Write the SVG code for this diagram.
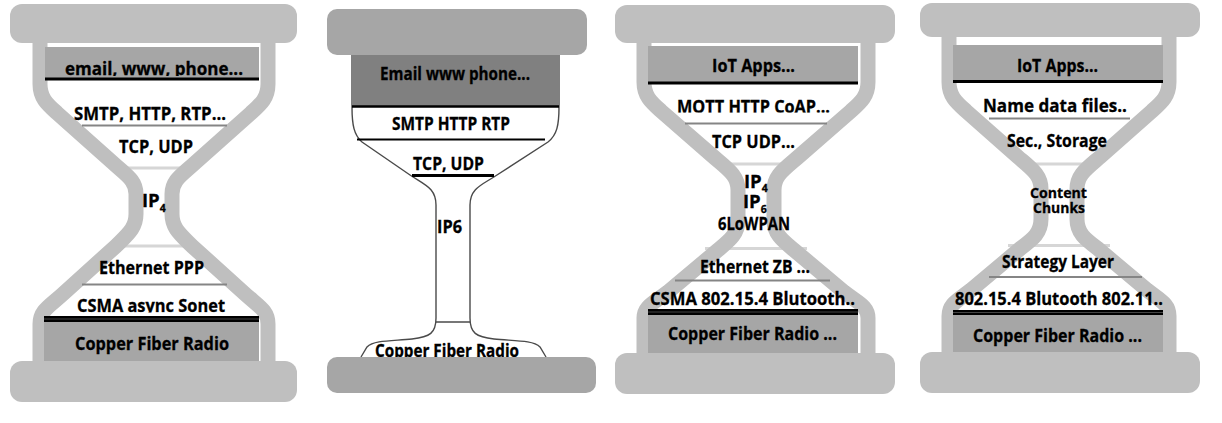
<svg xmlns="http://www.w3.org/2000/svg" width="1222" height="423" viewBox="0 0 1222 423">
<style>
.cap{fill:#bfbfbf}
.cap2{fill:#a6a6a6}
.band{fill:none;stroke:#bfbfbf;stroke-width:15}
.lbl{fill:#a6a6a6}
.lbl2{fill:#808080}
.t{font-family:"Open Sans","Liberation Sans",sans-serif;font-weight:700;font-size:18.5px;fill:#000;stroke:#000;stroke-width:0.3}
.s{font-size:17.5px}
.sm{font-size:14.5px}
.sub{font-size:10.5px}
.sep{stroke:#858585;stroke-width:2.2}
.neck{stroke:#d6d6d6;stroke-width:3}
.blk{stroke:#000;stroke-width:3}
.out{fill:none;stroke:#4a4a4a;stroke-width:1.4}
</style>
<defs>
<clipPath id="c1"><rect x="0" y="0" width="310" height="76"/></clipPath>
<clipPath id="c2"><rect x="0" y="290" width="310" height="22.5"/></clipPath>
<clipPath id="c3"><rect x="610" y="80" width="300" height="32.5"/></clipPath>
</defs>
<rect width="1222" height="423" fill="#fff"/>

<g id="hourglass-internet">
<line class="neck" x1="125" y1="168" x2="183" y2="168"/>
<line class="neck" x1="110" y1="246" x2="198" y2="246"/>
<path class="band" d="M40,40 L40,84 C40,98 47,104 57,113 L112,162 C126,175 136,180 136,194 L136,214 C136,228 128,234 116,246 L64,293 C50,306 40,310 40,324 L40,364 M268,40 L268,84 C268,98 261,104 251,113 L196,162 C182,175 172,180 172,194 L172,214 C172,228 180,234 192,246 L244,293 C258,306 268,310 268,324 L268,364"/>
<rect class="cap" x="10" y="4" width="287" height="39" rx="12"/>
<rect class="lbl" x="45" y="47" width="214" height="31"/>
<text class="t" x="65" y="74.5" textLength="178" lengthAdjust="spacingAndGlyphs" clip-path="url(#c1)">email, www, phone...</text>
<line class="blk" x1="45" y1="79" x2="259" y2="79"/>
<text class="t" x="74" y="119.5" textLength="152" lengthAdjust="spacingAndGlyphs">SMTP, HTTP, RTP...</text>
<line class="sep" x1="82" y1="125.5" x2="227" y2="125.5"/>
<text class="t" x="119" y="153" textLength="74" lengthAdjust="spacingAndGlyphs">TCP, UDP</text>
<text class="t" x="142" y="207">IP<tspan class="sub" dy="4.5">4</tspan></text>
<text class="t" x="99" y="273.5" textLength="105" lengthAdjust="spacingAndGlyphs">Ethernet PPP</text>
<line class="sep" x1="82" y1="284.5" x2="227" y2="284.5"/>
<text class="t" x="77" y="311.5" textLength="148" lengthAdjust="spacingAndGlyphs" clip-path="url(#c2)">CSMA async Sonet</text>
<rect x="44" y="316" width="215" height="6" fill="#000"/>
<line x1="44" y1="319" x2="259" y2="319" stroke="#555" stroke-width="0.8"/>
<rect class="lbl" x="44" y="322" width="215" height="40"/>
<text class="t" x="75" y="350" textLength="154" lengthAdjust="spacingAndGlyphs">Copper Fiber Radio</text>
<rect class="cap" x="10" y="361" width="287" height="41" rx="12"/>
</g>

<g id="wineglass-ipv6">
<path class="out" d="M352,55 L352,107 C352,125 354,135 362,142 L410,175 C425,185 436,188 436,205 L436,318 C436,333 430,337 412,339 C392,341 374,340 367,347 L361,357 M559,55 L559,107 C559,125 557,135 548,142 L497,175 C482,185 470,188 470,205 L470,318 C470,333 476,337 494,339 C514,341 533,340 540,347 L546,357"/>
<line class="out" x1="436" y1="322" x2="470" y2="322"/>
<rect class="cap2" x="327" y="9" width="260" height="46" rx="10"/>
<rect class="lbl2" x="352" y="55" width="207" height="51"/>
<text class="t s" x="380" y="80" textLength="150" lengthAdjust="spacingAndGlyphs">Email www phone...</text>
<line x1="352" y1="106.5" x2="559" y2="106.5" stroke="#000" stroke-width="2.5"/>
<text class="t s" x="392" y="130" textLength="118" lengthAdjust="spacingAndGlyphs">SMTP HTTP RTP</text>
<line x1="357" y1="139.5" x2="545" y2="139.5" stroke="#000" stroke-width="2"/>
<text class="t s" x="413" y="170" textLength="71" lengthAdjust="spacingAndGlyphs">TCP, UDP</text>
<line class="blk" x1="412" y1="175.5" x2="494" y2="175.5"/>
<text class="t s" x="437" y="233" textLength="25" lengthAdjust="spacingAndGlyphs">IP6</text>
<text class="t s" x="375" y="357" textLength="144" lengthAdjust="spacingAndGlyphs">Copper Fiber Radio</text>
<rect class="cap2" x="327" y="357" width="269" height="36" rx="10"/>
</g>

<g id="hourglass-iot">
<line class="neck" x1="715" y1="164" x2="797" y2="164"/>
<line class="neck" x1="705" y1="248.5" x2="807" y2="248.5"/>
<path class="band" d="M644,40 L644,82 C644,96 651,102 661,111 L715,158 C729,170 738,176 738,190 L738,220 C738,234 730,240 718,250 L668,292 C654,303 644,306 644,318 L644,356 M868,40 L868,82 C868,96 861,102 851,111 L797,158 C783,170 774,176 774,190 L774,220 C774,234 782,240 794,250 L844,292 C858,303 868,306 868,318 L868,356"/>
<rect class="cap" x="615" y="5" width="280" height="38" rx="12"/>
<rect class="lbl" x="648" y="46" width="210" height="36"/>
<text class="t" x="712" y="72" textLength="83" lengthAdjust="spacingAndGlyphs">IoT Apps...</text>
<line class="blk" x1="648" y1="83" x2="858" y2="83"/>
<text class="t" x="677" y="113" textLength="153" lengthAdjust="spacingAndGlyphs" clip-path="url(#c3)">MQTT HTTP CoAP...</text>
<line class="sep" x1="685" y1="123.5" x2="827" y2="123.5"/>
<text class="t" x="712" y="148" textLength="83" lengthAdjust="spacingAndGlyphs">TCP UDP...</text>
<text class="t"><tspan x="744" y="188">IP</tspan><tspan class="sub" dy="4">4</tspan><tspan x="743" y="207.5">IP</tspan><tspan class="sub" dy="5">6</tspan><tspan x="718" y="230" textLength="72" lengthAdjust="spacingAndGlyphs">6LoWPAN</tspan></text>
<text class="t" x="700" y="273" textLength="110" lengthAdjust="spacingAndGlyphs">Ethernet ZB ...</text>
<line class="sep" x1="675" y1="280.5" x2="830" y2="280.5"/>
<text class="t" x="650" y="305" textLength="205" lengthAdjust="spacingAndGlyphs">CSMA 802.15.4 Blutooth..</text>
<rect x="648" y="309" width="210" height="6" fill="#000"/>
<line x1="648" y1="312" x2="858" y2="312" stroke="#555" stroke-width="0.8"/>
<rect class="lbl" x="648" y="315" width="210" height="38"/>
<text class="t" x="668" y="340" textLength="169" lengthAdjust="spacingAndGlyphs">Copper Fiber Radio ...</text>
<rect class="cap" x="615" y="353" width="280" height="41" rx="12"/>
</g>

<g id="hourglass-ndn">
<line class="neck" x1="1018" y1="164" x2="1100" y2="164"/>
<line class="neck" x1="1008" y1="245.5" x2="1110" y2="245.5"/>
<path class="band" d="M949,34 L949,82 C949,96 956,102 966,111 L1018,157 C1032,169 1041,175 1041,189 L1041,219 C1041,233 1033,239 1021,248 L971,290 C957,301 949,304 949,316 L949,355 M1169,34 L1169,82 C1169,96 1162,102 1152,111 L1100,157 C1086,169 1077,175 1077,189 L1077,219 C1077,233 1085,239 1097,248 L1147,290 C1161,301 1169,304 1169,316 L1169,355"/>
<rect class="cap" x="920" y="3" width="280" height="34" rx="12"/>
<rect class="lbl" x="953" y="45" width="210" height="35"/>
<text class="t" x="1017" y="72" textLength="81" lengthAdjust="spacingAndGlyphs">IoT Apps...</text>
<line class="blk" x1="953" y1="81.5" x2="1163" y2="81.5"/>
<text class="t" x="983" y="112" textLength="144" lengthAdjust="spacingAndGlyphs">Name data files..</text>
<line class="sep" x1="989" y1="118.5" x2="1130" y2="118.5"/>
<text class="t" x="1007" y="147" textLength="100" lengthAdjust="spacingAndGlyphs">Sec., Storage</text>
<text class="t sm"><tspan x="1030" y="198" textLength="57" lengthAdjust="spacingAndGlyphs">Content</tspan><tspan x="1033" y="213" textLength="52" lengthAdjust="spacingAndGlyphs">Chunks</tspan></text>
<text class="t" x="1002" y="268" textLength="112" lengthAdjust="spacingAndGlyphs">Strategy Layer</text>
<line class="sep" x1="989" y1="277" x2="1142" y2="277"/>
<text class="t" x="955" y="305" textLength="208" lengthAdjust="spacingAndGlyphs">802.15.4 Blutooth 802.11..</text>
<rect x="953" y="310" width="210" height="5" fill="#000"/>
<line x1="953" y1="312.5" x2="1163" y2="312.5" stroke="#555" stroke-width="0.8"/>
<rect class="lbl" x="953" y="315" width="210" height="37"/>
<text class="t" x="973" y="342" textLength="169" lengthAdjust="spacingAndGlyphs">Copper Fiber Radio ...</text>
<rect class="cap" x="920" y="352" width="280" height="41" rx="12"/>
</g>
</svg>
